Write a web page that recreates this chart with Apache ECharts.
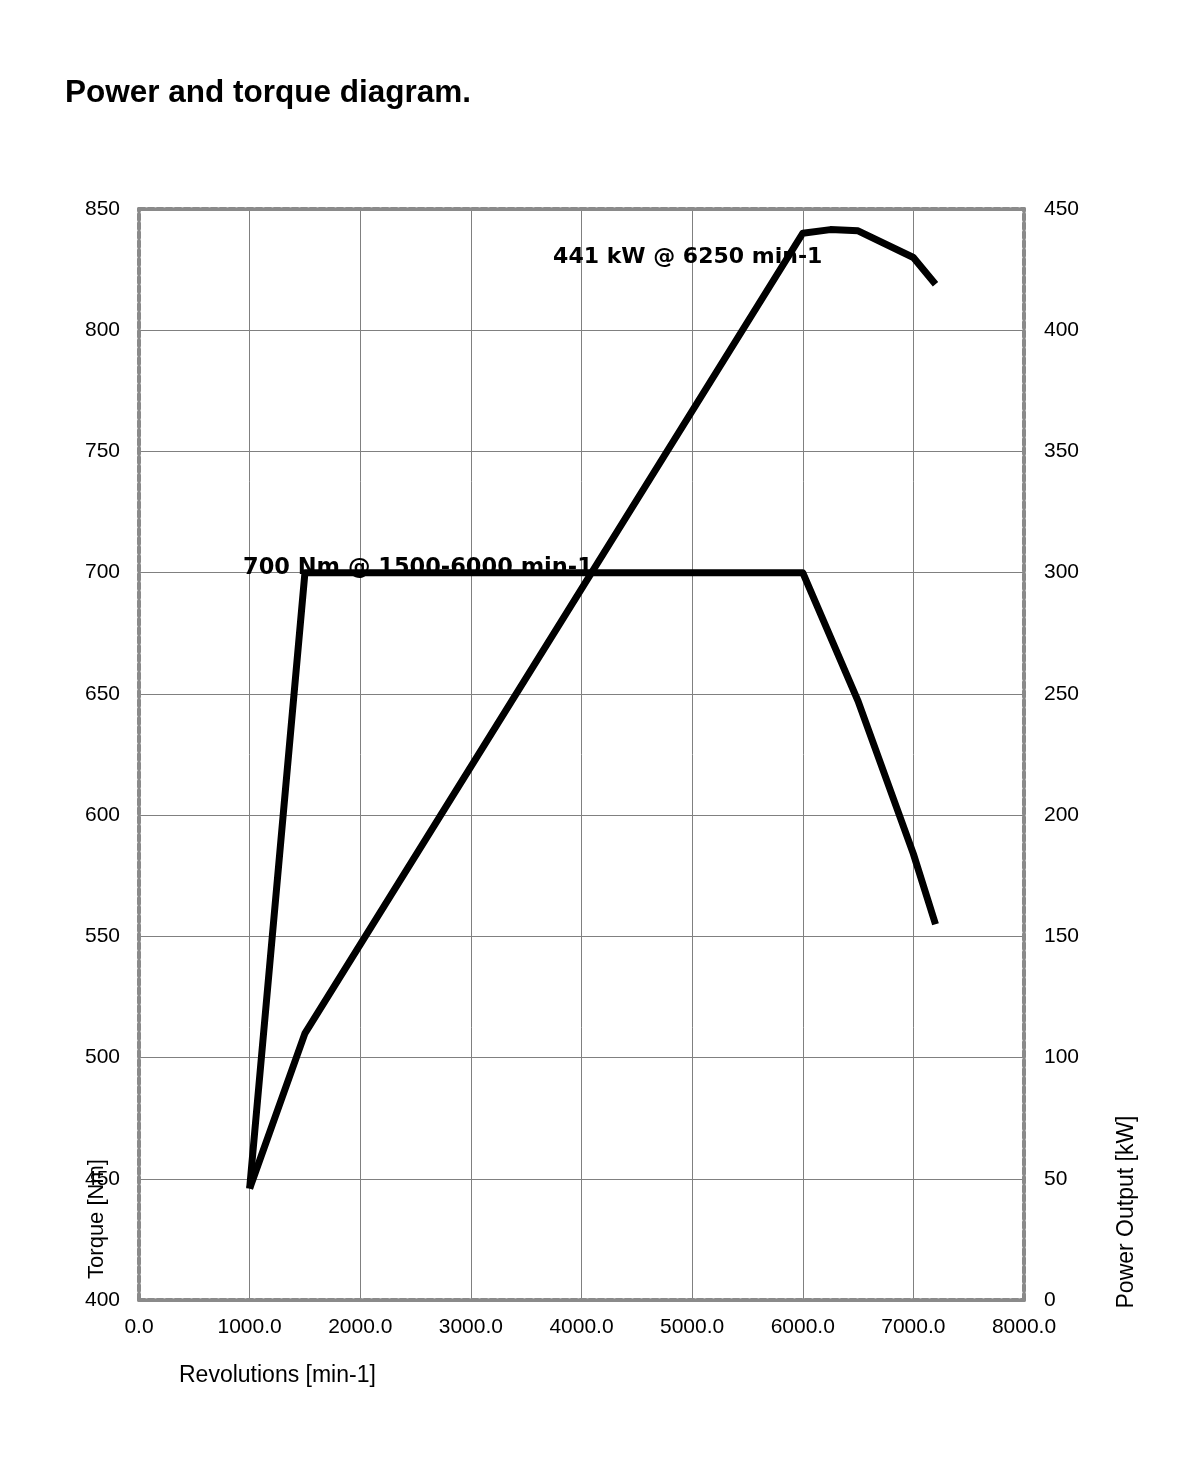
<!DOCTYPE html>
<html>
<head>
<meta charset="utf-8">
<script src="https://cdn.jsdelivr.net/npm/echarts@6/dist/echarts.min.js"></script>
<style>
html,body{margin:0;padding:0;background:#fff;}
#main{width:1195px;height:1461px;}
</style>
</head>
<body>
<div id="main"></div>
<script>
// Data
var torqueRpm   = [1000, 1500, 6000, 6500, 7000, 7200];
var torqueNm    = [446, 700, 700, 647, 584, 555];
var powerRpm    = [1000, 1500, 6000, 6250, 6500, 7000, 7200];
var powerKw     = [46, 110, 440, 441.5, 441, 430, 419];
var xTicks      = [0, 1000, 2000, 3000, 4000, 5000, 6000, 7000, 8000];
var torqueTicks = [400, 450, 500, 550, 600, 650, 700, 750, 800, 850];
var powerTicks  = [0, 50, 100, 150, 200, 250, 300, 350, 400, 450];
var powerNote   = {text: '441 kW @ 6250 min-1', at: [3743, 430]};
var torqueNote  = {text: '700 Nm @ 1500-6000 min-1', at: [940, 702]};

var FONT = 'Liberation Sans, Arial, sans-serif';
var NOTE_FONT = 'DejaVu Sans, Liberation Sans, sans-serif';
var borderStyle = {color: '#8a8a8a', width: 4, type: [6, 3]};
var gridLine = {show: true, showMinLine: false, showMaxLine: false, lineStyle: {color: '#808080', width: 1}};

var chart = echarts.init(document.getElementById('main'), null, {renderer: 'canvas'});

function pairs(xs, ys) { return xs.map(function (x, i) { return [x, ys[i]]; }); }

var option = {
  animation: false,
  backgroundColor: '#fff',
  title: {
    text: 'Power and torque diagram.',
    left: 60, top: 72,
    textStyle: {fontFamily: FONT, fontWeight: 'bold', fontSize: 31.5, color: '#000'}
  },
  grid: {left: 139, right: 171, top: 209, bottom: 161, containLabel: false},
  xAxis: [{
    type: 'value', min: xTicks[0], max: xTicks[xTicks.length - 1], interval: 1000,
    axisLine: {show: true, onZero: false, lineStyle: borderStyle},
    axisTick: {show: false},
    splitLine: gridLine,
    axisLabel: {fontFamily: FONT, fontSize: 21, color: '#000', margin: 17,
      formatter: function (v) { return v.toFixed(1); }}
  }, {
    type: 'value', position: 'top', min: xTicks[0], max: xTicks[xTicks.length - 1], interval: 1000,
    axisLine: {show: true, onZero: false, lineStyle: borderStyle},
    axisTick: {show: false}, axisLabel: {show: false}, splitLine: {show: false}
  }],
  yAxis: [{
    type: 'value', min: torqueTicks[0], max: torqueTicks[torqueTicks.length - 1], interval: 50,
    position: 'left',
    axisLine: {show: true, onZero: false, lineStyle: borderStyle},
    axisTick: {show: false},
    splitLine: gridLine,
    axisLabel: {fontFamily: FONT, fontSize: 21, color: '#000', margin: 19}
  }, {
    type: 'value', min: powerTicks[0], max: powerTicks[powerTicks.length - 1], interval: 50,
    position: 'right',
    axisLine: {show: true, onZero: false, lineStyle: borderStyle},
    axisTick: {show: false},
    splitLine: {show: false},
    axisLabel: {fontFamily: FONT, fontSize: 21, color: '#000', margin: 20}
  }],
  series: [{
    name: 'Torque', type: 'line', xAxisIndex: 0, yAxisIndex: 0,
    data: pairs(torqueRpm, torqueNm), showSymbol: false, symbol: 'none',
    lineStyle: {color: '#000', width: 7, cap: 'butt', join: 'round'},
    z: 5,
    markPoint: {
      symbol: 'rect', symbolSize: 0, silent: true,
      label: {show: true, position: 'right', distance: 0, formatter: torqueNote.text,
        fontFamily: NOTE_FONT, fontWeight: 'bold', fontSize: 22.5, color: '#000'},
      data: [{coord: torqueNote.at}]
    }
  }, {
    name: 'Power', type: 'line', xAxisIndex: 0, yAxisIndex: 1,
    data: pairs(powerRpm, powerKw), showSymbol: false, symbol: 'none',
    lineStyle: {color: '#000', width: 7, cap: 'butt', join: 'round'},
    z: 5,
    markPoint: {
      symbol: 'rect', symbolSize: 0, silent: true,
      label: {show: true, position: 'right', distance: 0, formatter: powerNote.text,
        fontFamily: NOTE_FONT, fontWeight: 'bold', fontSize: 22, color: '#000'},
      data: [{coord: powerNote.at}]
    }
  }],
  graphic: [{
    type: 'text', left: 179, top: 1364,
    style: {text: 'Revolutions [min-1]', font: '23px ' + FONT, fill: '#000'}
  }, {
    type: 'text', x: 97, y: 1219, rotation: Math.PI / 2,
    style: {text: 'Torque [Nm]', font: '22px ' + FONT, fill: '#000', align: 'center', verticalAlign: 'middle'}
  }, {
    type: 'text', x: 1127, y: 1212, rotation: Math.PI / 2,
    style: {text: 'Power Output [kW]', font: '23px ' + FONT, fill: '#000', align: 'center', verticalAlign: 'middle'}
  }]
};
chart.setOption(option);
</script>
</body>
</html>
